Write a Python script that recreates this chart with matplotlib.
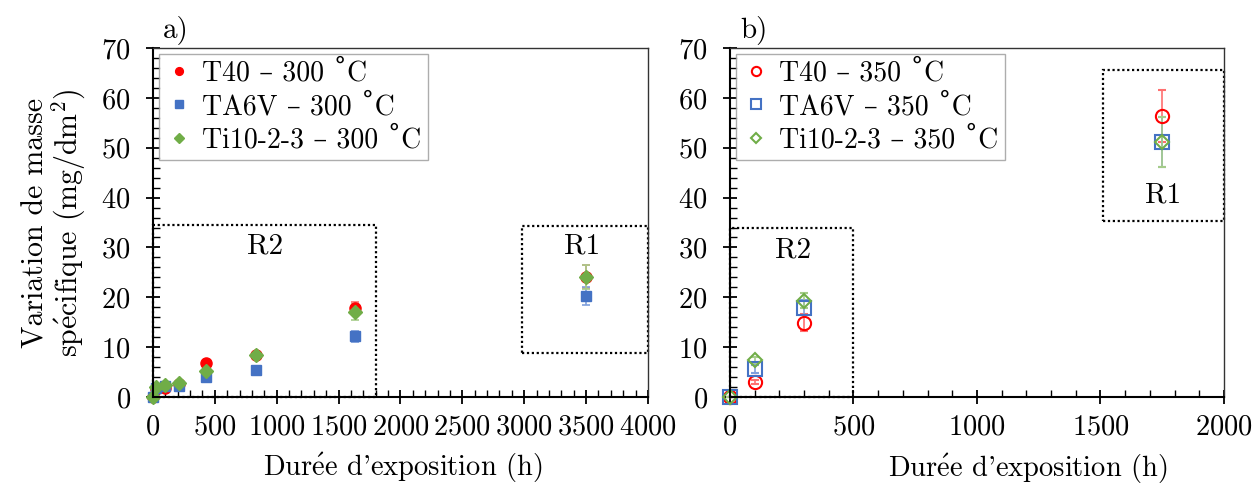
import matplotlib
matplotlib.use("Agg")
import matplotlib.pyplot as plt
from matplotlib.patches import Rectangle
from matplotlib.ticker import MultipleLocator

plt.rcParams['font.family'] = ['cmr10', 'DejaVu Serif']
plt.rcParams['mathtext.fontset'] = 'cm'
plt.rcParams['axes.formatter.use_mathtext'] = True
plt.rcParams['axes.unicode_minus'] = False

# 300 °C data
t_300 = [0, 24, 100, 210, 430, 830, 1630, 3500]
t40_300 = [0, 1.6, 1.8, 2.6, 6.8, 8.4, 17.8, 24.1]
t40_300_err = [0, 0.2, 0.2, 0.3, 0.4, 0.5, 1.3, 2.3]
ta6v_300 = [0, 1.9, 2.2, 2.2, 4.1, 5.5, 12.2, 20.2]
ta6v_300_err = [0, 0.2, 0.2, 0.2, 0.4, 0.4, 1.1, 1.8]
ti_300 = [0, 2.0, 2.5, 2.9, 5.3, 8.4, 17.0, 24.0]
ti_300_err = [0, 0.2, 0.2, 0.3, 0.4, 0.5, 1.6, 2.4]

# 350 °C data
t_350 = [0, 100, 300, 1750]
t40_350 = [0, 3.0, 14.9, 56.3]
t40_350_err = [0, 0.4, 1.7, 5.2]
ta6v_350 = [0, 5.7, 17.9, 51.2]
ta6v_350_err = [0, 0.8, 1.5, 5.0]
ti_350 = [0, 7.4, 19.3, 51.1]
ti_350_err = [0, 0.6, 1.5, 5.0]

red = '#FF0000'
blue = '#4472C4'
green = '#70AD47'

# cmr10 maps ° and é to other glyphs, so use ring-above (falls back to DejaVu) and mathtext
DEG = '\u02daC'
E_ACUTE = r'$\acute{\mathrm{e}}$'

fig = plt.figure(figsize=(12.56, 4.86), dpi=100)
ax1 = fig.add_axes([0.1218, 0.1831, 0.3941, 0.7181])
ax2 = fig.add_axes([0.5812, 0.1831, 0.3933, 0.7181])


def style_axis(ax, xmax):
    ax.set_xlim(0, xmax)
    ax.set_ylim(0, 70)
    ax.xaxis.set_major_locator(MultipleLocator(500))
    ax.xaxis.set_minor_locator(MultipleLocator(100))
    ax.yaxis.set_major_locator(MultipleLocator(10))
    ax.yaxis.set_minor_locator(MultipleLocator(2))
    ax.tick_params(which='major', direction='inout', length=10, width=1.3,
                   labelsize=20.5, top=False, right=False)
    ax.tick_params(which='minor', direction='in', length=5, width=1.0,
                   top=False, right=False)
    ax.tick_params(axis='x', which='major', pad=7)
    ax.tick_params(axis='y', which='major', pad=11)
    for s in ['left', 'bottom']:
        ax.spines[s].set_linewidth(1.5)
    for s in ['top', 'right']:
        ax.spines[s].set_linewidth(1.0)
        ax.spines[s].set_color('#333333')
    ax.set_xlabel('Dur' + E_ACUTE + "e d'exposition (h)", fontsize=20.5)


style_axis(ax1, 4000)
style_axis(ax2, 2000)
ax1.xaxis.set_label_coords(0.505, -0.155)
ax2.xaxis.set_label_coords(0.603, -0.158)

eb = dict(capsize=3, elinewidth=1.2, capthick=1.2, clip_on=False, linestyle='none')

# left panel, filled markers
h1 = [
    ax1.errorbar(t_300, t40_300, yerr=t40_300_err, fmt='o', color=red, ecolor='#ff7070',
                 ms=8, label='T40 – 300 ' + DEG, **eb),
    ax1.errorbar(t_300, ta6v_300, yerr=ta6v_300_err, fmt='s', color=blue, ecolor='#7fa0dc',
                 ms=7.5, label='TA6V – 300 ' + DEG, **eb),
    ax1.errorbar(t_300, ti_300, yerr=ti_300_err, fmt='D', color=green, ecolor='#a5cc8a',
                 ms=7, label='Ti10-2-3 – 300 ' + DEG, **eb),
]

# right panel, open markers
h2 = [
    ax2.errorbar(t_350, t40_350, yerr=t40_350_err, fmt='o', color=red, ecolor='#ff7070',
                 mfc='none', mew=1.5, ms=9.5, label='T40 – 350 ' + DEG, **eb),
    ax2.errorbar(t_350, ta6v_350, yerr=ta6v_350_err, fmt='s', color=blue, ecolor='#7fa0dc',
                 mfc='none', mew=1.5, ms=10, label='TA6V – 350 ' + DEG, **eb),
    ax2.errorbar(t_350, ti_350, yerr=ti_350_err, fmt='D', color=green, ecolor='#a5cc8a',
                 mfc='none', mew=1.5, ms=7.5, label='Ti10-2-3 – 350 ' + DEG, **eb),
]


# dotted region boxes
def region(ax, x0, y0, x1, y1, text, tx, ty):
    ax.add_patch(Rectangle((x0, y0), x1 - x0, y1 - y0, fill=False, ls=(0, (1, 1.2)),
                           lw=1.6, ec='black', clip_on=False, zorder=1))
    ax.text(tx, ty, text, fontsize=21, ha='center', va='center')


region(ax1, 0, 0, 1800, 34.6, 'R2', 905, 30.2)
region(ax1, 2980, 8.8, 4000, 34.4, 'R1', 3470, 30.2)
region(ax2, 0, 0, 500, 34.0, 'R2', 255, 29.4)
region(ax2, 1510, 35.4, 2000, 65.6, 'R1', 1755, 40.5)

for ax, hs in ((ax1, h1), (ax2, h2)):
    leg = ax.legend([c[0] for c in hs], [c.get_label() for c in hs],
                    loc='upper left', fontsize=20, frameon=True, fancybox=False,
                    borderaxespad=0.2, handletextpad=0.3, labelspacing=0.25,
                    markerscale=0.7, handlelength=1.0, borderpad=0.25)
    leg.get_frame().set_edgecolor('#999999')
    leg.get_frame().set_linewidth(1.0)

ax1.set_ylabel('Variation de masse\nsp' + E_ACUTE + 'cifique (mg/dm$^2$)', fontsize=21.5,
               labelpad=10, linespacing=1.0)

fig.text(0.130, 0.938, 'a)', fontsize=21, va='center')
fig.text(0.589, 0.938, 'b)', fontsize=21, va='center')

fig.savefig('out.png', dpi=100)
